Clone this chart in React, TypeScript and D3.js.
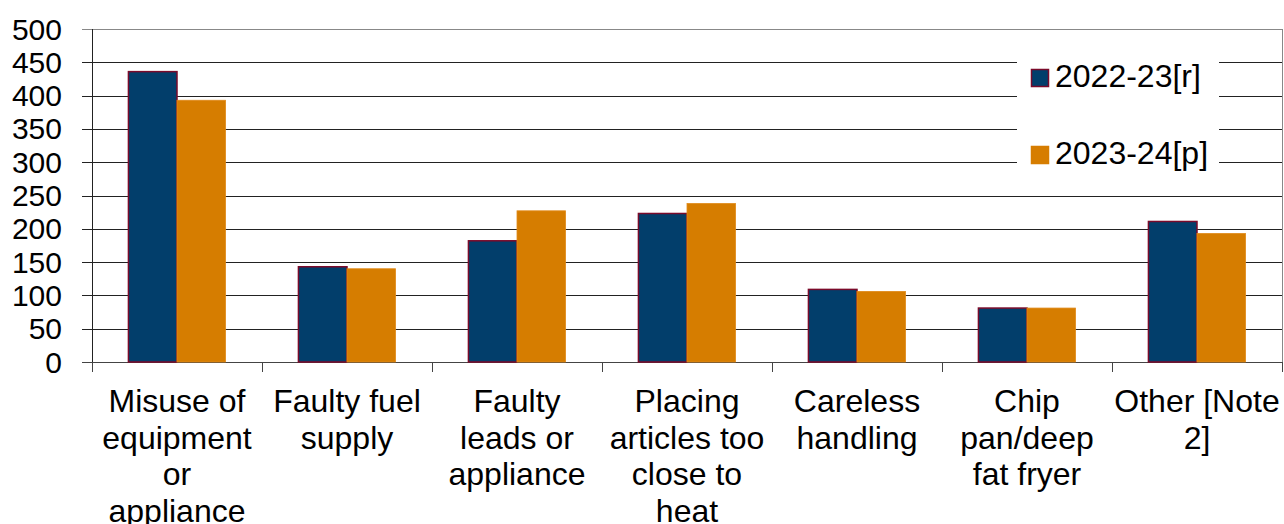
import React from "react";
import * as d3 from "d3";

const categories: string[][] = [
  ["Misuse of", "equipment", "or", "appliance"],
  ["Faulty fuel", "supply"],
  ["Faulty", "leads or", "appliance"],
  ["Placing", "articles too", "close to", "heat"],
  ["Careless", "handling"],
  ["Chip", "pan/deep", "fat fryer"],
  ["Other [Note", "2]"],
];
const series2223: number[] = [436, 143, 182, 223, 109, 81, 211];
const series2324: number[] = [393, 140, 227, 238, 106, 81, 193];
const seriesNames: string[] = ["2022-23[r]", "2023-24[p]"];
const yTicks: number[] = [0, 50, 100, 150, 200, 250, 300, 350, 400, 450, 500];

const W = 1284;
const H = 524;
const M = { left: 92, right: 2, top: 29, bottom: 162 };
const FONT = "Liberation Sans, Arial, sans-serif";
const BLUE = "#023e6b";
const ORANGE = "#d67d00";
const BORDER = "#7a0a2a";

export default function App() {
  const x = d3
    .scaleBand<number>()
    .domain(d3.range(categories.length))
    .range([M.left, W - M.right]);
  const y = d3.scaleLinear().domain([0, 500]).range([H - M.bottom, M.top]);
  const inner = d3
    .scaleBand<number>()
    .domain([0, 1])
    .range([0, x.bandwidth()])
    .paddingOuter(0.75)
    .paddingInner(0);
  const data = [series2223, series2324];
  const colors = [BLUE, ORANGE];
  const strokes = [BORDER, "#e08a1a"];
  const y0 = y(0);
  const bounds = [...x.domain().map((d) => x(d)!), W - M.right];

  return (
    <svg
      width={W}
      height={H}
      style={{ position: "absolute", left: 0, top: 0, background: "#fff" }}
      fontFamily={FONT}
    >
      {/* gridlines */}
      {yTicks.map((t) => (
        <line
          key={t}
          x1={M.left - 10}
          x2={W - M.right}
          y1={Math.round(y(t)) + 0.5}
          y2={Math.round(y(t)) + 0.5}
          stroke={t === 500 ? "#888" : t === 0 ? "#444" : "#222"}
          strokeWidth={1}
        />
      ))}
      {/* right border */}
      <line
        x1={W - M.right + 0.5}
        x2={W - M.right + 0.5}
        y1={y(500)}
        y2={y0}
        stroke="#888"
      />
      {/* bars */}
      {data.map((vals, si) =>
        vals.map((v, i) => (
          <rect
            key={`${si}-${i}`}
            x={x(i)! + inner(si)!}
            y={y(v)}
            width={inner.bandwidth()}
            height={y0 - y(v)}
            fill={colors[si]}
            stroke={strokes[si]}
            strokeWidth={si === 0 ? 1.5 : 0.8}
          />
        ))
      )}
      {/* y axis line */}
      <line
        x1={M.left + 0.5}
        x2={M.left + 0.5}
        y1={y(500)}
        y2={y0 + 10}
        stroke="#222"
      />
      {/* category ticks */}
      {bounds.map((b, i) => (
        <line
          key={i}
          x1={Math.round(b) + 0.5}
          x2={Math.round(b) + 0.5}
          y1={y0}
          y2={y0 + 10}
          stroke="#444"
        />
      ))}
      {/* y tick labels */}
      {yTicks.map((t) => (
        <text
          key={t}
          x={62}
          y={y(t)}
          dy="0.35em"
          textAnchor="end"
          fontSize={30}
          fill="#000"
        >
          {t}
        </text>
      ))}
      {/* category labels */}
      {categories.map((lines, i) => (
        <text
          key={i}
          x={x(i)! + x.bandwidth() / 2}
          y={412}
          textAnchor="middle"
          fontSize={32}
          fill="#000"
        >
          {lines.map((l, j) => (
            <tspan key={j} x={x(i)! + x.bandwidth() / 2} dy={j === 0 ? 0 : 36.6}>
              {l}
            </tspan>
          ))}
        </text>
      ))}
      {/* legend */}
      <rect x={1017} y={55} width={202} height={128} fill="#fff" />
      {seriesNames.map((n, i) => (
        <g key={n} transform={`translate(1031, ${69 + i * 77})`}>
          <rect
            x={0.5}
            y={0.5}
            width={17}
            height={17}
            fill={colors[i]}
            stroke={i === 0 ? BORDER : colors[i]}
            strokeWidth={1.5}
          />
          <text x={24} y={18} fontSize={32} fill="#000">
            {n}
          </text>
        </g>
      ))}
    </svg>
  );
}
